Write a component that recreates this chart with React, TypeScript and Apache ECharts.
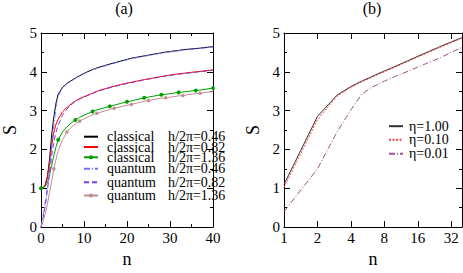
import React, { useEffect, useRef } from 'react';
import * as echarts from 'echarts';

// ---- Panel (a) data ----
const nA = [0, 0.5, 1, 1.5, 2, 2.5, 3, 3.5, 4, 5, 6, 7, 8, 9, 10, 12, 13, 16, 17, 20, 21, 24, 25, 28, 29, 32, 33, 36, 37, 40];
const classical046 = [1.0, 1.02, 1.08, 1.3, 1.75, 2.4, 2.85, 3.2, 3.42, 3.6, 3.7, 3.77, 3.84, 3.9, 3.96, 4.06, 4.1, 4.2, 4.23, 4.32, 4.35, 4.41, 4.43, 4.49, 4.51, 4.55, 4.57, 4.6, 4.61, 4.65];
const classical082 = [1.0, 1.02, 1.1, 1.3, 1.65, 2.1, 2.45, 2.65, 2.78, 2.97, 3.08, 3.17, 3.25, 3.31, 3.36, 3.45, 3.5, 3.6, 3.63, 3.71, 3.73, 3.8, 3.82, 3.88, 3.9, 3.95, 3.96, 4.0, 4.01, 4.05];
const classical136 = [1.0, 1.01, 1.05, 1.15, 1.35, 1.6, 1.85, 2.07, 2.25, 2.45, 2.58, 2.68, 2.76, 2.83, 2.88, 2.98, 3.02, 3.11, 3.14, 3.23, 3.25, 3.33, 3.35, 3.41, 3.42, 3.47, 3.48, 3.52, 3.53, 3.58];
const quantum046 = [0, 0.3, 0.65, 1.05, 1.5, 2.1, 2.65, 3.1, 3.38, 3.59, 3.69, 3.76, 3.83, 3.89, 3.95, 4.05, 4.09, 4.19, 4.22, 4.31, 4.34, 4.4, 4.42, 4.48, 4.5, 4.54, 4.56, 4.59, 4.6, 4.64];
const quantum082 = [0, 0.25, 0.55, 0.95, 1.4, 1.85, 2.2, 2.45, 2.62, 2.88, 3.04, 3.15, 3.24, 3.3, 3.35, 3.44, 3.49, 3.59, 3.62, 3.7, 3.72, 3.79, 3.81, 3.87, 3.89, 3.94, 3.95, 3.99, 4.0, 4.04];
const quantum136 = [0, 0.15, 0.35, 0.6, 0.9, 1.2, 1.5, 1.75, 1.97, 2.25, 2.45, 2.57, 2.66, 2.73, 2.79, 2.89, 2.93, 3.03, 3.06, 3.14, 3.16, 3.24, 3.26, 3.32, 3.33, 3.38, 3.39, 3.44, 3.45, 3.49];
const greenMarkerN = [0, 4, 8, 12, 16, 20, 24, 28, 32, 36, 40];
const brownMarkerN = [3, 6, 9, 13, 17, 21, 25, 29, 33, 37];
const namesA = [
  'classical h/2π=0.46',
  'classical h/2π=0.82',
  'classical h/2π=1.36',
  'quantum h/2π=0.46',
  'quantum h/2π=0.82',
  'quantum h/2π=1.36',
];

// ---- Panel (b) data ----
const nB = [1, 2, 3, 4, 5, 6, 7, 8, 10, 12, 16, 20, 24, 32, 40];
const eta100 = [1.1, 2.85, 3.4, 3.62, 3.76, 3.86, 3.95, 4.02, 4.14, 4.24, 4.4, 4.52, 4.62, 4.77, 4.88];
const eta010 = [1.02, 2.77, 3.37, 3.6, 3.74, 3.84, 3.93, 4.0, 4.12, 4.22, 4.38, 4.5, 4.6, 4.75, 4.87];
const eta001 = [0.4, 1.5, 2.45, 3.02, 3.42, 3.58, 3.68, 3.76, 3.88, 3.97, 4.12, 4.24, 4.33, 4.5, 4.63];
const namesB = ['η=1.00', 'η=0.10', 'η=0.01'];

// legend row centres (px)
const rowsA = [134.7, 145, 155.3, 168.3, 181.7, 195];
const rowsB = [125.7, 139.3, 153.3];

const FONT = 'Liberation Serif';
const CSS = `.chart-root svg text, .chart-root svg tspan { font-family: 'Liberation Serif', 'DejaVu Serif', serif !important; }`;

function pairs(xs: number[], ys: number[], markers?: number[]) {
  return xs.map((x, i) => {
    if (!markers) return [x, ys[i]];
    return markers.includes(x) ? [x, ys[i]] : { value: [x, ys[i]], symbol: 'none' };
  });
}

function frameAxes(kind: 'x' | 'y', base: any, axisName: string, nameGap: number) {
  const mk = () => ({
    axisLine: { show: true, onZero: false, lineStyle: { color: '#000', width: 1 } },
    axisTick: { show: true, inside: true, length: 6, lineStyle: { color: '#000' } },
    splitLine: { show: false },
    ...JSON.parse(JSON.stringify(base)),
  });
  const main = {
    ...mk(),
    position: kind === 'x' ? 'bottom' : 'left',
    axisLabel: {
      fontFamily: FONT, fontSize: 15, color: '#000',
      margin: kind === 'x' ? 3 : 4,
    },
    name: axisName, nameLocation: 'middle', nameGap,
    nameTextStyle: { fontFamily: FONT, fontSize: 18, color: '#000' },
  };
  const mirror = { ...mk(), position: kind === 'x' ? 'top' : 'right', axisLabel: { show: false } };
  return [main, mirror];
}

export default function App() {
  const ref = useRef<HTMLDivElement>(null);
  useEffect(() => {
    if (!ref.current) return;
    const chart = echarts.init(ref.current, undefined, { renderer: 'svg' });
    const minor = { show: true, splitNumber: 2, length: 3, lineStyle: { color: '#000' } };

    const xA = frameAxes('x', { type: 'value', min: 0, max: 40, interval: 10, minorTick: minor }, 'n', 17);
    const yA = frameAxes('y', { type: 'value', min: 0, max: 5, interval: 1, minorTick: minor }, 'S', 22);
    const xB = frameAxes('x', { type: 'log', logBase: 2, min: 1, max: 40 }, 'n', 17);
    const yB = frameAxes('y', { type: 'value', min: 0, max: 5, interval: 1, minorTick: minor }, 'S', 22);

    const legendFormatter = (name: string) => {
      const idx = name.indexOf(' ');
      return `{a|${name.slice(0, idx)}}{b|${name.slice(idx + 1)}}`;
    };
    const richFor = (lh: number) => ({
      a: { width: 61, fontSize: 14, fontFamily: FONT, color: '#000', lineHeight: lh, padding: [0, 0, 0, 4] },
      b: { fontSize: 14, fontFamily: FONT, color: '#000', lineHeight: lh },
    });
    const markerNames = [namesA[2], namesA[5]];

    const legendsA = namesA.map((name, i) => {
      const lh = i < 3 ? 10 : 13;
      return {
        data: [{ name, itemStyle: markerNames.includes(name) ? {} : { opacity: 0 } }],
        orient: 'vertical', left: 83, top: rowsA[i] - lh / 2, padding: 0,
        itemWidth: 14, itemHeight: 5, selectedMode: false,
        formatter: legendFormatter,
        textStyle: { fontSize: 14, fontFamily: FONT, lineHeight: lh, rich: richFor(lh) },
      };
    });
    const legendsB = namesB.map((name, i) => ({
      data: [{ name, itemStyle: { opacity: 0 } }],
      orient: 'vertical', left: 388, top: rowsB[i] - 6.5, padding: 0,
      itemWidth: 14, itemHeight: 5, selectedMode: false,
      textStyle: { fontSize: 14, fontFamily: FONT, color: '#000', lineHeight: 13, padding: [0, 0, 0, 1] },
    }));

    const lineSeries = (name: string, xi: number, data: any[], color: string, type: any, extra: any = {}) => ({
      name, type: 'line', xAxisIndex: xi, yAxisIndex: xi,
      data, symbol: 'none', showSymbol: true,
      lineStyle: { color, width: 1, type },
      itemStyle: { color },
      emphasis: { disabled: true },
      ...extra,
    });

    chart.setOption({
      animation: false,
      backgroundColor: '#fff',
      textStyle: { fontFamily: FONT },
      title: [
        { text: '(a)', left: 124, top: 0, padding: 0, textAlign: 'center', textStyle: { fontSize: 16, fontWeight: 'normal', fontFamily: FONT, color: '#000' } },
        { text: '(b)', left: 372, top: 0, padding: 0, textAlign: 'center', textStyle: { fontSize: 16, fontWeight: 'normal', fontFamily: FONT, color: '#000' } },
      ],
      grid: [
        { left: 36, top: 33, width: 177, height: 211 },
        { left: 284, top: 33, width: 178, height: 211 },
      ],
      xAxis: [...xA, ...xB].map((a, i) => ({ ...a, gridIndex: i < 2 ? 0 : 1 })),
      yAxis: [...yA, ...yB].map((a, i) => ({ ...a, gridIndex: i < 2 ? 0 : 1 })),
      legend: [...legendsA, ...legendsB],
      series: [
        lineSeries(namesA[0], 0, pairs(nA, classical046), '#000000', 'solid'),
        lineSeries(namesA[1], 0, pairs(nA, classical082), '#ff0000', 'solid'),
        lineSeries(namesA[2], 0, pairs(nA, classical136, greenMarkerN), '#00a000', 'solid', { symbol: 'circle', symbolSize: 4 }),
        lineSeries(namesA[3], 0, pairs(nA, quantum046), '#7070ff', [6, 2, 1, 2]),
        lineSeries(namesA[4], 0, pairs(nA, quantum082), '#7a3ae0', [5, 3]),
        lineSeries(namesA[5], 0, pairs(nA, quantum136, brownMarkerN), '#c09090', 'solid', { symbol: 'circle', symbolSize: 3.5 }),
        lineSeries(namesB[0], 2, pairs(nB, eta100), '#333333', 'solid'),
        lineSeries(namesB[1], 2, pairs(nB, eta010), '#ff4040', [2, 1.5]),
        lineSeries(namesB[2], 2, pairs(nB, eta001), '#a05090', [6, 2, 1, 2]),
      ],
    });
    return () => chart.dispose();
  }, []);
  return (
    <>
      <style>{CSS}</style>
      <div ref={ref} className="chart-root" style={{ position: 'fixed', left: 0, top: 0, width: 463, height: 273, background: '#fff' }} />
    </>
  );
}
